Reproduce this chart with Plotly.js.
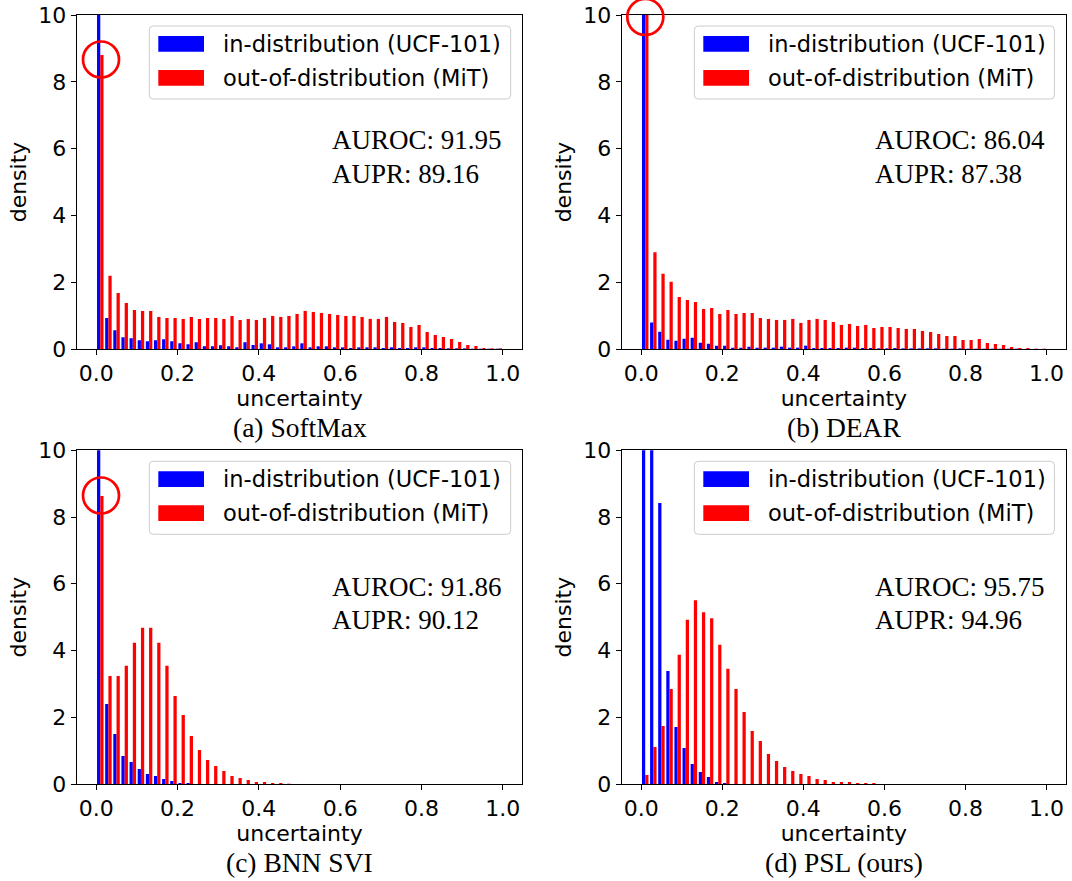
<!DOCTYPE html>
<html><head><meta charset="utf-8">
<script src="https://cdn.plot.ly/plotly-3.0.1.min.js"></script>
<style>html,body{margin:0;padding:0;background:#fff}#chart{width:1072px;height:881px}</style>
</head><body><div id="chart"></div>
<script>
// ---------- data ----------
const binCenters = [0.01,0.03,0.05,0.07,0.09,0.11,0.13,0.15,0.17,0.19,
  0.21,0.23,0.25,0.27,0.29,0.31,0.33,0.35,0.37,0.39,
  0.41,0.43,0.45,0.47,0.49,0.51,0.53,0.55,0.57,0.59,
  0.61,0.63,0.65,0.67,0.69,0.71,0.73,0.75,0.77,0.79,
  0.81,0.83,0.85,0.87,0.89,0.91,0.93,0.95,0.97,0.99];
const xTickVals = [0,0.2,0.4,0.6,0.8,1.0];
const xTickText = ['0.0','0.2','0.4','0.6','0.8','1.0'];
const yTickVals = [0,2,4,6,8,10];
const yTickText = ['0','2','4','6','8','10'];
const seriesNames = ['in-distribution (UCF-101)','out-of-distribution (MiT)'];
const captions = ['(a) SoftMax','(b) DEAR','(c) BNN SVI','(d) PSL (ours)'];
const aurocVals = [91.95, 86.04, 91.86, 95.75];
const auprVals = [89.16, 87.38, 90.12, 94.96];

const softmaxIn = [43.2,0.93,0.56,0.35,0.32,0.26,0.23,0.26,0.29,0.23,
  0.17,0.14,0.20,0.08,0.08,0.11,0.08,0.05,0.20,0.12,
  0.17,0.14,0.05,0.05,0.08,0.17,0.05,0.08,0.08,0.05,
  0.05,0.03,0.05,0.05,0.05,0.03,0.05,0.03,0.03,0.05,
  0.05,0.03,0.03,0.02,0.02,0.02,0.01,0.01,0.01,0.01];
const softmaxOut = [8.80,2.19,1.68,1.38,1.17,1.14,1.14,0.96,0.93,0.93,
  0.90,0.96,0.90,0.93,0.93,0.90,0.99,0.87,0.90,0.87,
  0.93,0.99,0.96,0.99,1.05,1.14,1.11,1.08,1.05,1.02,
  0.99,0.99,0.96,0.90,0.90,0.96,0.81,0.78,0.66,0.72,
  0.51,0.42,0.36,0.30,0.21,0.12,0.09,0.03,0.02,0.02];
const dearIn = [45.8,0.79,0.52,0.28,0.25,0.31,0.34,0.19,0.16,0.10,
  0.10,0.04,0.04,0.07,0.04,0.04,0.04,0.07,0.04,0.04,
  0.10,0.03,0.03,0.03,0.03,0.04,0.04,0.03,0.03,0.02,
  0.02,0.03,0.02,0.02,0.02,0.02,0.02,0.01,0.01,0.02,
  0.01,0.01,0.01,0.01,0.01,0.01,0.01,0.00,0.00,0.00];
const dearOut = [11.5,2.90,2.25,2.01,1.56,1.47,1.41,1.20,1.23,1.05,
  1.17,1.05,1.08,1.08,0.93,0.90,0.87,0.87,0.90,0.78,
  0.87,0.90,0.87,0.81,0.72,0.75,0.69,0.72,0.63,0.66,
  0.66,0.63,0.60,0.60,0.54,0.51,0.45,0.39,0.39,0.27,
  0.27,0.30,0.18,0.15,0.12,0.06,0.03,0.03,0.01,0.01];
const bnnIn = [43.3,2.40,1.50,0.84,0.66,0.45,0.30,0.24,0.15,0.09,
  0.03,0.03,0,0,0,0,0,0,0,0,
  0,0,0,0,0,0,0,0,0,0,
  0,0,0,0,0,0,0,0,0,0,
  0,0,0,0,0,0,0,0,0,0];
const bnnOut = [8.63,3.24,3.24,3.54,4.23,4.68,4.68,4.23,3.54,2.64,
  2.07,1.44,1.02,0.72,0.54,0.39,0.24,0.18,0.12,0.06,
  0.06,0.03,0.03,0.01,0,0,0,0,0,0,
  0,0,0,0,0,0,0,0,0,0,
  0,0,0,0,0,0,0,0,0,0];
const pslIn = [16.0,18.0,8.42,3.39,1.71,1.08,0.60,0.36,0.21,0.06,
  0.03,0,0,0,0,0,0,0,0,0,
  0,0,0,0,0,0,0,0,0,0,
  0,0,0,0,0,0,0,0,0,0,
  0,0,0,0,0,0,0,0,0,0];
const pslOut = [0.27,1.11,1.74,2.85,3.87,4.92,5.51,5.15,4.97,4.17,
  3.45,2.85,2.16,1.59,1.29,0.90,0.69,0.51,0.39,0.30,
  0.24,0.15,0.12,0.06,0.06,0.06,0.03,0.03,0.03,0,
  0,0,0,0,0,0,0,0,0,0,
  0,0,0,0,0,0,0,0,0,0];

// ---------- layout geometry (pixels) ----------
const W = 1072, H = 881;
const fx = p => p / W;
const fy = p => 1 - p / H;
const panels = [
  {ins: softmaxIn, outs: softmaxOut, L: 76.7, R: 522.3, T: 15, B: 349, txtX: 329.5, txtY1: 140.3, txtY2: 174.2, circle: [101, 59.5]},
  {ins: dearIn, outs: dearOut, L: 621.7, R: 1066, T: 15, B: 349, txtX: 872.8, txtY1: 140.3, txtY2: 174.2, circle: [645.3, 17]},
  {ins: bnnIn, outs: bnnOut, L: 76.7, R: 522.3, T: 450.3, B: 784, txtX: 329.5, txtY1: 587, txtY2: 620.3, circle: [101, 495.5]},
  {ins: pslIn, outs: pslOut, L: 621.7, R: 1066, T: 450.3, B: 784, txtX: 872.8, txtY1: 587, txtY2: 620.3, circle: null}
];
const BLUE = '#0000ff', RED = '#ff0000';
const SANS = 'DejaVu Sans', SERIF = 'Liberation Serif';

const traces = [];
const layout = {
  width: W, height: H,
  margin: {l: 0, r: 0, t: 0, b: 0},
  paper_bgcolor: '#fff', plot_bgcolor: '#fff',
  showlegend: false,
  barmode: 'group', bargap: 0.2, bargroupgap: 0,
  font: {family: SANS, size: 22, color: '#000'},
  shapes: [], annotations: []
};

function roundRect(x0, y0, x1, y1, r) {
  const P = (x, y) => fx(x) + ',' + fy(y);
  return 'M' + P(x0 + r, y0) + 'L' + P(x1 - r, y0) + 'Q' + P(x1, y0) + ' ' + P(x1, y0 + r) +
    'L' + P(x1, y1 - r) + 'Q' + P(x1, y1) + ' ' + P(x1 - r, y1) +
    'L' + P(x0 + r, y1) + 'Q' + P(x0, y1) + ' ' + P(x0, y1 - r) +
    'L' + P(x0, y0 + r) + 'Q' + P(x0, y0) + ' ' + P(x0 + r, y0) + 'Z';
}

panels.forEach((p, i) => {
  const n = i === 0 ? '' : String(i + 1);
  const xa = 'x' + n, ya = 'y' + n;
  traces.push({type: 'bar', x: binCenters, y: p.ins, name: seriesNames[0], xaxis: xa, yaxis: ya,
    marker: {color: BLUE, line: {width: 0}}, hoverinfo: 'skip'});
  traces.push({type: 'bar', x: binCenters, y: p.outs, name: seriesNames[1], xaxis: xa, yaxis: ya,
    marker: {color: RED, line: {width: 0}}, hoverinfo: 'skip'});
  const common = {showgrid: false, zeroline: false, showline: true, mirror: true, linecolor: '#000', linewidth: 1,
    ticks: 'outside', ticklen: 5, tickwidth: 1, tickcolor: '#000', automargin: false,
    tickfont: {family: SANS, size: 22, color: '#000'}, fixedrange: true};
  layout['xaxis' + n] = Object.assign({}, common, {
    domain: [fx(p.L), fx(p.R)], anchor: ya, range: [-0.048, 1.048],
    tickmode: 'array', tickvals: xTickVals, ticktext: xTickText,
    title: {text: 'uncertainty', font: {family: SANS, size: 22, color: '#000'}, standoff: 3}
  });
  layout['yaxis' + n] = Object.assign({}, common, {
    domain: [fy(p.B), fy(p.T)], anchor: xa, range: [0, 10],
    tickmode: 'array', tickvals: yTickVals, ticktext: yTickText,
    title: {text: 'density', font: {family: SANS, size: 22, color: '#000'}, standoff: 5}
  });
  // legend box
  const bx0 = p.L + 72.6, bx1 = p.R - 11.6, by0 = p.T + 11, by1 = p.T + 84;
  layout.shapes.push({type: 'path', xref: 'paper', yref: 'paper', path: roundRect(bx0, by0, bx1, by1, 4),
    fillcolor: 'rgba(255,255,255,0.8)', line: {color: '#cccccc', width: 1}, layer: 'above'});
  [[BLUE, 10, 18], [RED, 44, 52]].forEach(([c, py, ty], k) => {
    layout.shapes.push({type: 'rect', xref: 'paper', yref: 'paper',
      x0: fx(bx0 + 9), x1: fx(bx0 + 54.7), y0: fy(by0 + py + 15.7), y1: fy(by0 + py),
      fillcolor: c, line: {width: 0}, layer: 'above'});
    layout.annotations.push({xref: 'paper', yref: 'paper', x: fx(bx0 + 71.4), y: fy(by0 + ty),
      xanchor: 'left', yanchor: 'middle', showarrow: false, text: seriesNames[k],
      font: {family: SANS, size: 22.5, color: '#000'}});
  });
  // metrics
  layout.annotations.push({xref: 'paper', yref: 'paper', x: fx(p.txtX), y: fy(p.txtY1), xanchor: 'left', yanchor: 'middle',
    showarrow: false, text: 'AUROC: ' + aurocVals[i].toFixed(2), font: {family: SERIF, size: 27, color: '#000'}});
  layout.annotations.push({xref: 'paper', yref: 'paper', x: fx(p.txtX), y: fy(p.txtY2), xanchor: 'left', yanchor: 'middle',
    showarrow: false, text: 'AUPR: ' + auprVals[i].toFixed(2), font: {family: SERIF, size: 27, color: '#000'}});
  // caption
  layout.annotations.push({xref: 'paper', yref: 'paper', x: fx((p.L + p.R) / 2), y: fy(p.B + 78.5), xanchor: 'center', yanchor: 'middle',
    showarrow: false, text: captions[i], font: {family: SERIF, size: 27.5, color: '#000'}});
  // highlight circle
  if (p.circle) {
    const [cx, cy] = p.circle, r = 18;
    layout.shapes.push({type: 'circle', xref: 'paper', yref: 'paper',
      x0: fx(cx - r), x1: fx(cx + r), y0: fy(cy + r), y1: fy(cy - r),
      line: {color: RED, width: 2.7}, fillcolor: 'rgba(0,0,0,0)', layer: 'above'});
  }
});

Plotly.newPlot('chart', traces, layout, {staticPlot: true, displayModeBar: false});
</script>
</body></html>
